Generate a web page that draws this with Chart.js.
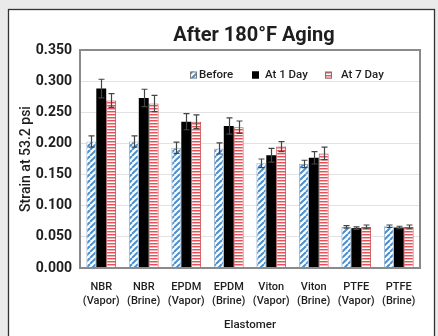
<!DOCTYPE html>
<html>
<head>
<meta charset="utf-8">
<script src="https://cdn.jsdelivr.net/npm/chart.js@4"></script>
<style>
html,body{margin:0;padding:0;background:#e9eae9;}
#wrap{position:absolute;left:0;top:0;width:438px;height:336px;}
</style>
</head>
<body>
<div id="wrap"><canvas id="c" width="438" height="336"></canvas></div>
<script>
const categories = [["NBR","(Vapor)"],["NBR","(Brine)"],["EPDM","(Vapor)"],["EPDM","(Brine)"],["Viton","(Vapor)"],["Viton","(Brine)"],["PTFE","(Vapor)"],["PTFE","(Brine)"]];
const seriesNames = ["Before","At 1 Day","At 7 Day"];
const before = [0.203,0.203,0.193,0.192,0.168,0.167,0.066,0.067];
const day1   = [0.288,0.273,0.235,0.228,0.181,0.177,0.064,0.065];
const day7   = [0.269,0.264,0.235,0.226,0.195,0.184,0.066,0.066];
const beforeErr = [0.009,0.009,0.009,0.009,0.007,0.006,0.002,0.002];
const day1Err   = [0.015,0.014,0.013,0.013,0.011,0.010,0.002,0.002];
const day7Err   = [0.011,0.013,0.011,0.010,0.008,0.010,0.003,0.003];
const yTicks = [0,0.05,0.1,0.15,0.2,0.25,0.3,0.35];

function diagPattern(){
  const c=document.createElement('canvas');c.width=6;c.height=6;
  const x=c.getContext('2d');
  x.fillStyle='#ffffff';x.fillRect(0,0,6,6);
  x.strokeStyle='#4a8fcf';x.lineWidth=2;
  for(let k=-6;k<=12;k+=6){x.beginPath();x.moveTo(k,6);x.lineTo(k+6,0);x.stroke();}
  return document.getElementById('c').getContext('2d').createPattern(c,'repeat');
}
function horizPattern(){
  const c=document.createElement('canvas');c.width=3;c.height=3;
  const x=c.getContext('2d');
  x.fillStyle='#ffffff';x.fillRect(0,0,3,3);
  x.fillStyle='#e2545a';x.fillRect(0,0,3,1);
  x.fillStyle='#f2aeb0';x.fillRect(0,1,3,1);
  return document.getElementById('c').getContext('2d').createPattern(c,'repeat');
}
const fills=[diagPattern(),'#000000',horizPattern()];
const borders=['#9bb3cc','#000000','#c9464a'];
const errs=[beforeErr,day1Err,day7Err];

const bgPlugin={
  id:'bg',
  beforeDraw(chart){
    const ctx=chart.ctx;
    ctx.save();
    ctx.fillStyle='#e9eae9';ctx.fillRect(0,0,438,336);
    ctx.fillStyle='#ffffff';ctx.fillRect(8.5,9.5,426,340);
    ctx.strokeStyle='#333333';ctx.lineWidth=1.3;ctx.strokeRect(8.5,9.5,426,340);
    ctx.restore();
  },
  afterDraw(chart){
    const ctx=chart.ctx, a=chart.chartArea;
    ctx.save();
    ctx.strokeStyle='#8a8a8a';ctx.lineWidth=2;
    ctx.strokeRect(a.left,a.top,a.right-a.left,a.bottom-a.top);
    ctx.fillStyle='#1e1e1e';ctx.font='bold 20px Roboto, "Liberation Sans", sans-serif';
    ctx.textAlign='center';ctx.textBaseline='middle';
    ctx.fillText('After 180°F Aging',254,36);
    ctx.font='500 11.5px Roboto, "Liberation Sans", sans-serif';
    ctx.textAlign='left';
    const lx=[190,252,325], tx=[199,265,341], ly=75;
    for(let i=0;i<3;i++){
      ctx.fillStyle=fills[i];ctx.fillRect(lx[i],ly-3.5,7,7);
      ctx.strokeStyle=i===1?'#000':'#777';ctx.lineWidth=1;ctx.strokeRect(lx[i]+0.5,ly-3,6,6);
      ctx.fillStyle='#1e1e1e';ctx.fillText(seriesNames[i],tx[i],ly+0.5);
    }
    ctx.restore();
  },
  afterDatasetsDraw(chart){
    const ctx=chart.ctx, ys=chart.scales.y;
    ctx.save();
    ctx.strokeStyle='#444444';ctx.lineWidth=1.2;
    chart.data.datasets.forEach((ds,di)=>{
      const meta=chart.getDatasetMeta(di);
      meta.data.forEach((el,i)=>{
        const v=ds.data[i], e=errs[di][i];
        const y1=ys.getPixelForValue(v+e), y2=ys.getPixelForValue(v-e);
        const x=Math.round(el.x)+0.5;
        ctx.beginPath();
        ctx.moveTo(x,y1);ctx.lineTo(x,y2);
        ctx.moveTo(x-3,y1);ctx.lineTo(x+3,y1);
        ctx.moveTo(x-3,y2);ctx.lineTo(x+3,y2);
        ctx.stroke();
      });
    });
    ctx.restore();
  }
};

new Chart(document.getElementById('c'),{
  type:'bar',
  data:{
    labels:categories,
    datasets:[
      {label:seriesNames[0],data:before,backgroundColor:fills[0],borderColor:borders[0],borderWidth:1},
      {label:seriesNames[1],data:day1,backgroundColor:fills[1],borderColor:borders[1],borderWidth:0},
      {label:seriesNames[2],data:day7,backgroundColor:fills[2],borderColor:borders[2],borderWidth:1}
    ]
  },
  plugins:[bgPlugin],
  options:{
    responsive:false,animation:false,
    layout:{padding:{left:14,right:18,top:50,bottom:0}},
    datasets:{bar:{categoryPercentage:0.7,barPercentage:1}},
    plugins:{legend:{display:false},title:{display:false},tooltip:{enabled:false}},
    scales:{
      x:{
        grid:{display:false},border:{display:false},
        ticks:{color:'#1e1e1e',font:{family:'Roboto, "Liberation Sans", sans-serif',size:11,weight:'500'},maxRotation:0,autoSkip:false,padding:5},
        title:{display:true,text:'Elastomer',color:'#1e1e1e',font:{family:'Roboto, "Liberation Sans", sans-serif',size:11.5,weight:'500'},padding:{top:6}},
        afterFit(s){s.height=68;}
      },
      y:{
        min:0,max:0.35,
        afterBuildTicks(s){s.ticks=yTicks.map(v=>({value:v}));},
        grid:{color:'#e2e2e2',lineWidth:1,drawTicks:false},border:{display:false},
        ticks:{color:'#1e1e1e',font:{family:'Roboto, "Liberation Sans", sans-serif',size:14,weight:'bold'},padding:8,callback:v=>Number(v).toFixed(3)},
        title:{display:true,text:'Strain at 53.2 psi',color:'#1e1e1e',font:{family:'Roboto, "Liberation Sans", sans-serif',size:14,weight:'500'},padding:{bottom:2}},
        afterFit(s){s.width=66;}
      }
    }
  }
});
</script>
</body>
</html>
